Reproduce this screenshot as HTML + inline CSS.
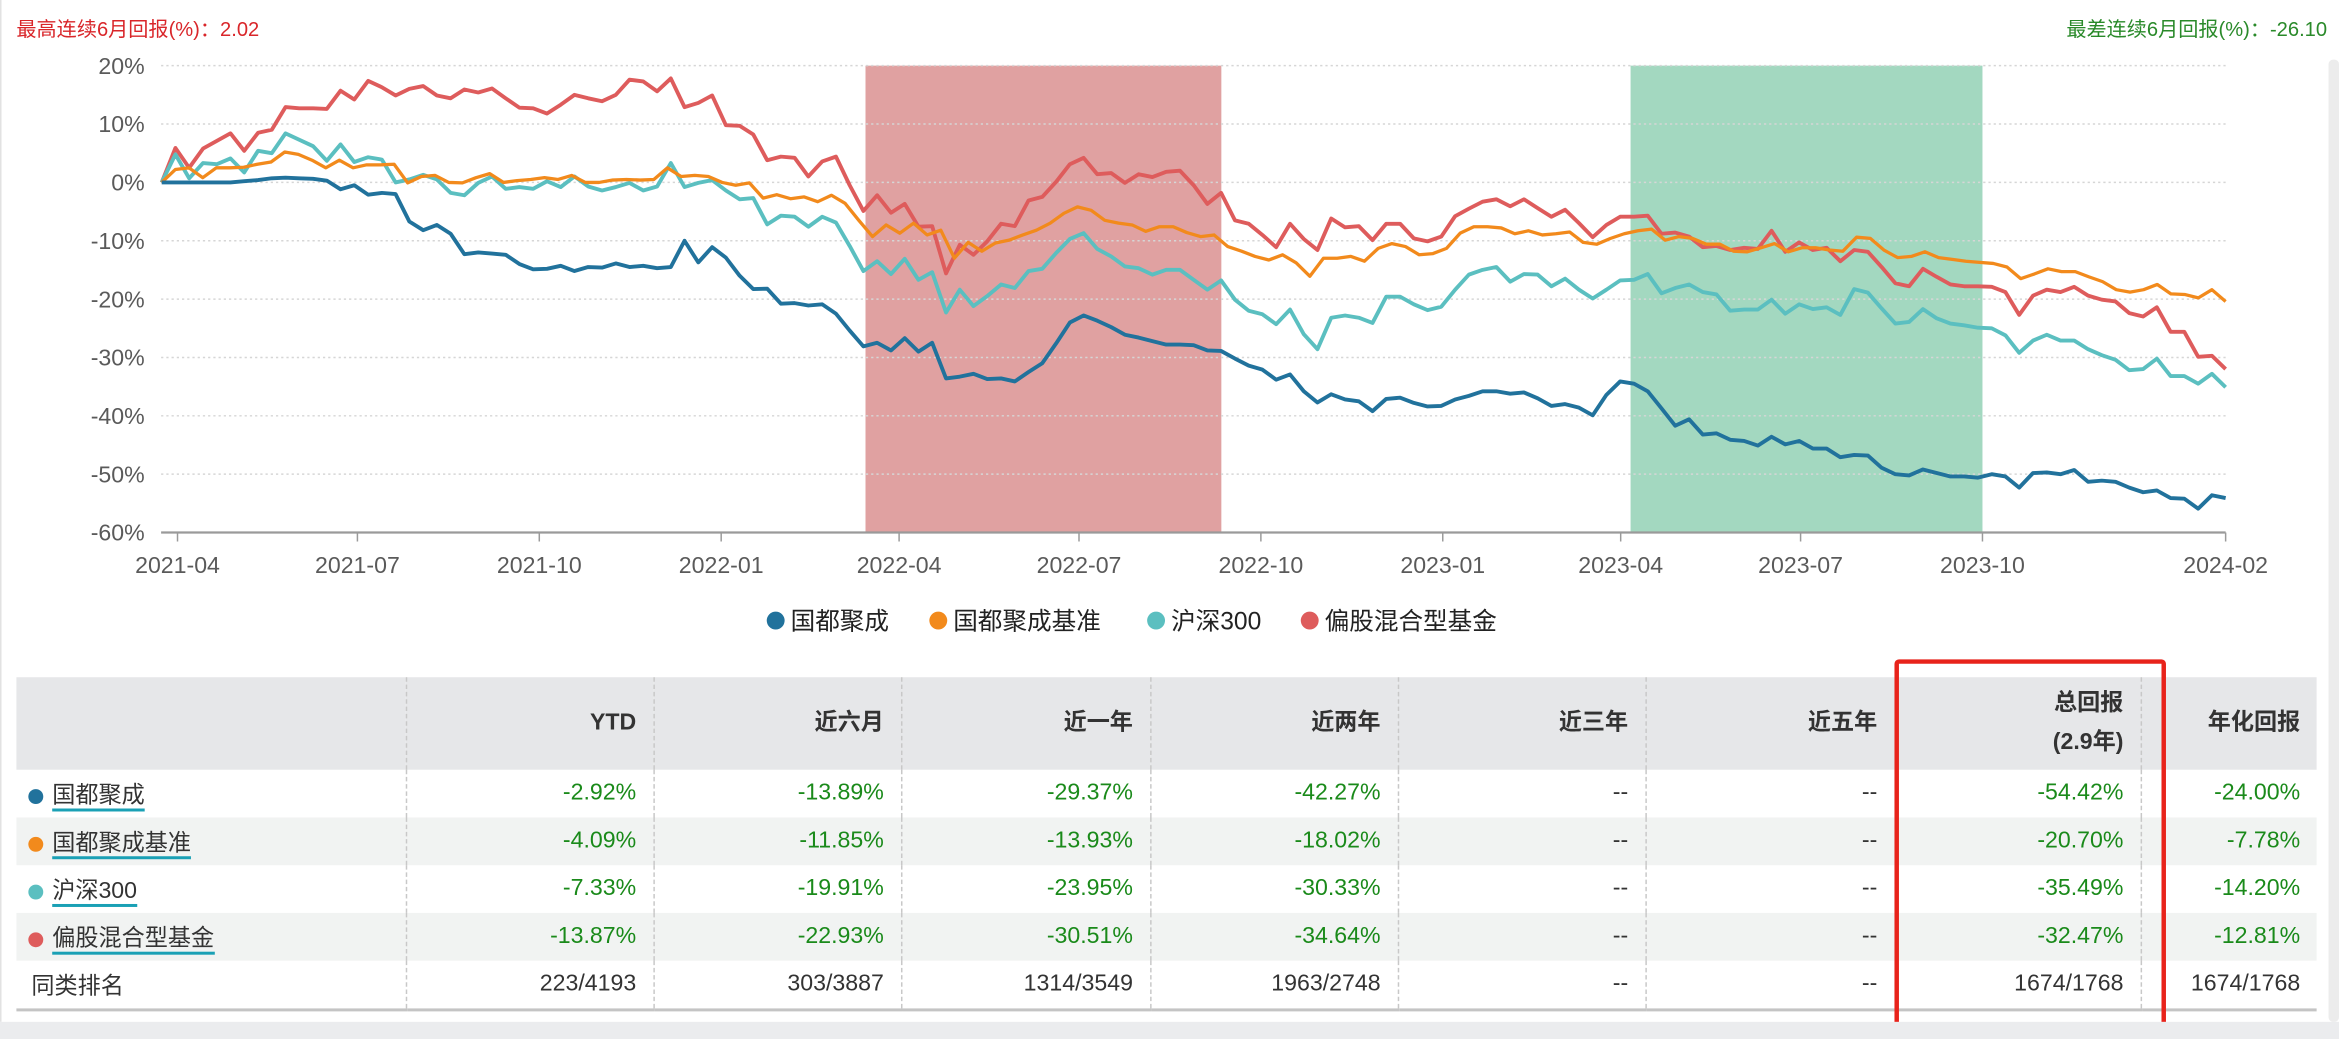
<!DOCTYPE html>
<html><head><meta charset="utf-8">
<style>
html,body{margin:0;padding:0;background:#fff;overflow:hidden;}
body{width:2339px;height:1039px;position:relative;}
#stage{position:absolute;left:0;top:0;width:1568px;height:697px;transform:scale(1.49171);transform-origin:0 0;font-family:"Liberation Sans","Noto Sans CJK SC",sans-serif;}
.ttl{position:absolute;top:8px;font-size:13.5px;}
#bottom-strip{position:absolute;left:0;top:685px;width:1568px;height:12px;background:#ebecee;}
#left-edge{position:absolute;left:0;top:0;width:1px;height:685px;background:#e2e2e2;}
#right-bar{position:absolute;left:1561px;top:40px;width:7px;height:645px;background:#ececec;border-radius:3px;}
table{position:absolute;left:11px;top:454px;width:1542px;border-collapse:collapse;font-size:15.5px;table-layout:fixed;}
th{background:#e6e7e9;height:62px;font-weight:bold;color:#333;text-align:right;padding:0 11px 0 0;border-right:1px dashed #c8c8c8;line-height:26px;}
td{height:32px;padding:0 11px 0 0;text-align:right;color:#1a8a1a;border-right:1px dashed #c8c8c8;}
td.dash{color:#333;}
td.nm{text-align:left;color:#333;padding-left:8px;}
tr.alt td{background:#f1f3f2;}
tr.rank td{color:#333;border-bottom:2px solid #c4c4c4;}
th:last-child,td:last-child{border-right:none;}
.dot{display:inline-block;width:10px;height:10px;border-radius:50%;margin-right:6px;vertical-align:-1px;}
.nml{border-bottom:2px solid #1aa0b5;padding-bottom:0;}
#hl{position:absolute;left:1270px;top:442px;width:182px;height:253px;border:3px solid #e8231b;border-radius:3px;box-sizing:border-box;}
</style></head><body>
<div id="stage">
<div id="left-edge"></div>
<div class="ttl" style="left:11px;color:#d9262a">最高连续6月回报(%)：2.02</div>
<div class="ttl" style="right:8px;color:#2a8a2a">最差连续6月回报(%)：-26.10</div>
<svg id="chart" width="1568" height="440" style="position:absolute;left:0;top:0"></svg>
<div id="right-bar"></div>
<table>
<colgroup><col style="width:261px"><col style="width:166px"><col style="width:166px"><col style="width:167px"><col style="width:166px"><col style="width:166px"><col style="width:167px"><col style="width:165px"><col style="width:118px"></colgroup>
<tr><th></th><th>YTD</th><th>近六月</th><th>近一年</th><th>近两年</th><th>近三年</th><th>近五年</th><th>总回报<br>(2.9年)</th><th>年化回报</th></tr>
<tr><td class="nm"><span class="dot" style="background:#21729c"></span><span class="nml">国都聚成</span></td><td>-2.92%</td><td>-13.89%</td><td>-29.37%</td><td>-42.27%</td><td class="dash">--</td><td class="dash">--</td><td>-54.42%</td><td>-24.00%</td></tr>
<tr class="alt"><td class="nm"><span class="dot" style="background:#f28a1c"></span><span class="nml">国都聚成基准</span></td><td>-4.09%</td><td>-11.85%</td><td>-13.93%</td><td>-18.02%</td><td class="dash">--</td><td class="dash">--</td><td>-20.70%</td><td>-7.78%</td></tr>
<tr><td class="nm"><span class="dot" style="background:#5bbfc0"></span><span class="nml">沪深300</span></td><td>-7.33%</td><td>-19.91%</td><td>-23.95%</td><td>-30.33%</td><td class="dash">--</td><td class="dash">--</td><td>-35.49%</td><td>-14.20%</td></tr>
<tr class="alt"><td class="nm"><span class="dot" style="background:#de5c5c"></span><span class="nml">偏股混合型基金</span></td><td>-13.87%</td><td>-22.93%</td><td>-30.51%</td><td>-34.64%</td><td class="dash">--</td><td class="dash">--</td><td>-32.47%</td><td>-12.81%</td></tr>
<tr class="rank"><td class="nm" style="padding-left:10px">同类排名</td><td>223/4193</td><td>303/3887</td><td>1314/3549</td><td>1963/2748</td><td>--</td><td>--</td><td>1674/1768</td><td>1674/1768</td></tr>
</table>
<div id="hl"></div>
<div id="bottom-strip"></div>
</div>
<script>
const startDate = "2021-03-24";
const endDate = "2024-02-01";
const yTicks = [20,10,0,-10,-20,-30,-40,-50,-60];
const xTickDates = ["2021-04-01","2021-07-01","2021-10-01","2022-01-01","2022-04-01","2022-07-01","2022-10-01","2023-01-01","2023-04-01","2023-07-01","2023-10-01","2024-02-01"];
const xTickLabels = ["2021-04","2021-07","2021-10","2022-01","2022-04","2022-07","2022-10","2023-01","2023-04","2023-07","2023-10","2024-02"];
const bands = [["2022-03-15","2022-09-11","#e0a1a1"],["2023-04-06","2023-10-01","#a3d8c0"]];
const seriesNames = ["国都聚成","国都聚成基准","沪深300","偏股混合型基金"];
const seriesColors = ["#21729c","#f28a1c","#5bbfc0","#de5c5c"];
const fundVals = [0,0,0,0,0,0,0.2,0.4,0.7,0.8,0.7,0.6,0.3,
-1.2,-0.5,-2.1,-1.8,-2,-6.7,-8.2,-7.3,-8.8,-12.3,-12,-12.2,-12.4,-14,-14.9,-14.8,-14.3,-15.2,-14.5,-14.6,-13.9,-14.5,-14.3,-14.7,-14.5,-10,-13.7,-11.1,-12.9,
-16,-18.3,-18.2,-20.8,-20.7,-21.1,-20.9,-22.5,-25.4,-28.1,-27.5,-28.8,-26.7,-29,-27.5,-33.6,-33.3,-32.8,-33.7,-33.6,-34.1,-32.5,-31,-27.6,-24,-22.8,-23.7,-24.8,-26.1,-26.6,-27.2,-27.8,-27.8,-27.9,-28.8,-28.9,-30.2,-31.4,-32.1,-33.8,-32.9,-35.8,-37.7,-36.3,-37.2,-37.5,-39.2,-37.1,-36.9,-37.8,-38.4,-38.3,-37.2,-36.6,-35.8,
-35.8,-36.2,-36,-37,-38.3,-38,-38.6,-39.9,-36.4,-34.1,-34.5,-35.8,-38.7,-41.7,-40.6,-43.2,-43,-44.1,-44.3,-45.1,-43.6,-44.9,-44.3,-45.6,-45.6,-47.1,-46.7,-46.8,-48.9,-50,-50.2,-49.2,-49.8,-50.4,-50.4,-50.6,-50,-50.4,-52.3,-49.8,-49.7,-50,-49.3,-51.3,-51.1,-51.3,-52.3,-53.1,-52.8,-54.1,-54.2,-55.9,-53.6,-54.1];
const benchVals = [0,2.2,2.5,0.8,2.5,2.5,2.6,3.1,3.5,5.2,4.8,3.8,2.5,3.8,2.5,3,3,3.1,-0.1,1,1.2,0,-0.1,0.8,1.5,0,0.3,0.5,0.8,0.5,1.2,0,0,0.4,0.5,0.4,0.5,2.5,1,1.2,1,0,-0.5,-0.1,-2.7,-2.1,
-2.8,-2.5,-3.3,-2.2,-3.6,-6.5,-9.3,-7.3,-8.7,-7,-9,-8.2,-13,-10.3,-11.8,-10.4,-9.9,-9,-8.2,-7,-5.3,-4.2,-4.8,-6.5,-7,-7.3,-8.4,-7.6,-7.6,-8.6,-9.3,-9,-11,-11.8,-12.7,-13.3,-12.4,-13.8,-16.1,-13,-13,-12.7,-13.5,-11.3,-10.5,-11,-12.4,-12.2,-11.3,-8.7,-7.6,-7.6,
-7.8,-8.8,-8.3,-9,-8.8,-8.5,-10.3,-10.6,-9.6,-8.8,-8.3,-8,-9.9,-9.3,-9.6,-10.6,-10.6,-11.8,-11.9,-11.2,-10.5,-11.9,-11.2,-11.2,-11.6,-11.8,-9.4,-9.6,-11.6,-12.9,-12.7,-11.9,-12.9,-13.2,-13.5,-13.7,-13.9,-14.5,-16.5,-15.7,-14.8,-15.3,-15.3,-16.2,-17,-18.4,-18.8,-18.4,-17.5,-19.1,-19.2,-19.8,-18.4,-20.4];
const csiVals = [0,4.8,0.7,3.3,3.1,4.1,1.7,5.4,5,8.4,7.3,6.2,3.7,6.5,3.5,4.3,3.9,0,0.5,1.3,0.5,-1.8,-2.2,-0.1,1,-1.1,-0.8,-1.1,0.2,-0.8,1,-0.7,-1.4,-0.8,-0.1,-1.4,-0.7,3.3,-0.8,-0.1,0.4,-1.4,-2.9,-2.7,-7.2,-5.7,
-5.9,-7.6,-5.9,-6.9,-10.9,-15.2,-13.5,-15.7,-13.1,-16.7,-15.4,-22.3,-18.4,-21.2,-19.5,-17.5,-18.1,-15.2,-14.8,-12.1,-9.7,-8.7,-11.4,-12.7,-14.4,-14.7,-15.8,-15,-15,-16.7,-18.4,-16.8,-20.1,-22,-22.6,-24.3,-21.8,-26,-28.6,-23.2,-22.8,-23.2,-24.1,-19.6,-19.6,-20.9,-21.9,-21.3,-18.4,-15.8,-15,
-14.5,-17,-15.7,-15.8,-17.8,-16.5,-18.4,-19.9,-18.4,-16.8,-16.7,-15.7,-19,-18.1,-17.5,-18.8,-19.2,-22,-21.8,-21.8,-20.1,-22.5,-20.9,-21.7,-21.4,-22.7,-18.3,-18.9,-21.6,-24.2,-23.9,-21.7,-23.3,-24.2,-24.5,-24.9,-25,-26.2,-29.2,-27.1,-26.1,-27.1,-27.1,-28.6,-29.6,-30.4,-32.2,-32,-30.2,-33.2,-33.2,-34.5,-32.8,-35.1];
const catVals = [0,5.9,2.5,5.8,7.1,8.4,5.4,8.5,9,12.9,12.7,12.7,12.6,15.7,14.2,17.4,16.3,14.9,16,16.5,14.9,14.4,15.9,15.4,16.1,14.4,12.8,12.7,11.8,13.3,15,14.4,13.9,15,17.6,17.3,15.6,17.8,12.9,13.6,14.9,9.8,9.7,8.2,3.8,4.4,
4.2,1,3.6,4.4,-0.5,-4.9,-2.2,-5.2,-3.7,-7.6,-7.5,-15.6,-10.7,-12.4,-10.1,-7.1,-7.5,-3.1,-2.5,0.1,3.1,4.2,1.4,1.6,-0.1,1.4,0.9,1.8,2,-0.5,-3.7,-1.8,-6.5,-7.1,-9,-11.1,-7.1,-9.7,-11.6,-6.2,-7.7,-7.5,-9.9,-7.1,-7.1,-9.6,-10.1,-9.3,-5.8,-4.5,-3.3,
-2.9,-4.1,-2.9,-4.4,-5.9,-4.7,-7,-9.4,-7.3,-5.9,-5.9,-5.7,-8.8,-8.6,-9.3,-11.1,-10.9,-11.6,-11.2,-11.4,-8.3,-11.9,-10.3,-11.6,-11.2,-13.5,-11.6,-11.9,-14.5,-17.3,-17.8,-14.8,-16.2,-17.5,-17.8,-17.8,-17.9,-18.8,-22.7,-19.4,-18.4,-18.8,-17.9,-19.4,-20.1,-20.4,-22.4,-23,-21.4,-25.6,-25.6,-29.9,-29.7,-32];

const NS = "http://www.w3.org/2000/svg";
const svg = document.getElementById('chart');
const DAY = 86400000;
const origin = Date.UTC(2021,3,1);
function dayOf(s){const p=s.split('-');return (Date.UTC(+p[0],+p[1]-1,+p[2])-origin)/DAY;}
const X0 = 119, PXD = 1373/1036, PL = 108, PR = 1492, YT = 44, YB = 357;
function xScale(day){return X0 + day*PXD;}
function yScale(v){return YT + (20 - v)*(YB-YT)/80;}
function mk(tag, attrs){const e=document.createElementNS(NS,tag);for(const k in attrs)e.setAttribute(k,attrs[k]);svg.appendChild(e);return e;}

bands.forEach(function(b){
  const r = mk('rect',{x:xScale(dayOf(b[0])),y:YT,width:xScale(dayOf(b[1]))-xScale(dayOf(b[0])),height:YB-YT,fill:b[2]});
  
  
});
yTicks.forEach(function(t){
  const y=yScale(t);
  if(t>-60){const g=mk('line',{x1:PL,x2:PR,y1:y,y2:y,stroke:'#d6d6d6','stroke-width':1,'stroke-dasharray':'1.5,2'});
    
    }
  const tx=mk('text',{x:97,y:y+5.5,'text-anchor':'end','font-size':15.5,fill:'#5a5a5a'});
  tx.textContent=t+'%';
  
  
});
const ax=mk('line',{x1:PL,x2:PR,y1:YB,y2:YB,stroke:'#9a9a9a','stroke-width':1.5});


xTickDates.forEach(function(d,i){
  const x=xScale(dayOf(d));
  const tk=mk('line',{x1:x,x2:x,y1:YB,y2:YB+6,stroke:'#9a9a9a','stroke-width':1});
  
  
  const tx=mk('text',{x:x,y:YB+27,'text-anchor':'middle','font-size':15.5,fill:'#5a5a5a'});
  tx.textContent=xTickLabels[i];
  
  
});
const allSeries=[fundVals,benchVals,csiVals,catVals];
const s0=dayOf(startDate), s1=dayOf(endDate);
[3,2,1,0].forEach(function(si){
  const vals=allSeries[si];
  const n=vals.length;
  let d='';
  vals.forEach(function(v,j){const day=s0+(s1-s0)*j/(n-1);d+=(j?'L':'M')+xScale(day).toFixed(1)+','+yScale(v).toFixed(1);});
  const p=mk('path',{d:d,fill:'none',stroke:seriesColors[si],'stroke-width':si===1?2.2:2.6,'stroke-linejoin':'round'});
  
  
});
const legendX=[520,629,775,878];
seriesNames.forEach(function(n,i){
  const c=mk('circle',{cx:legendX[i],cy:416,r:6,fill:seriesColors[i]});
  
  
  const t=mk('text',{x:legendX[i]+10,y:422,'font-size':16.5,fill:'#222'});
  t.textContent=n;
  
  
});
</script>
</body></html>
